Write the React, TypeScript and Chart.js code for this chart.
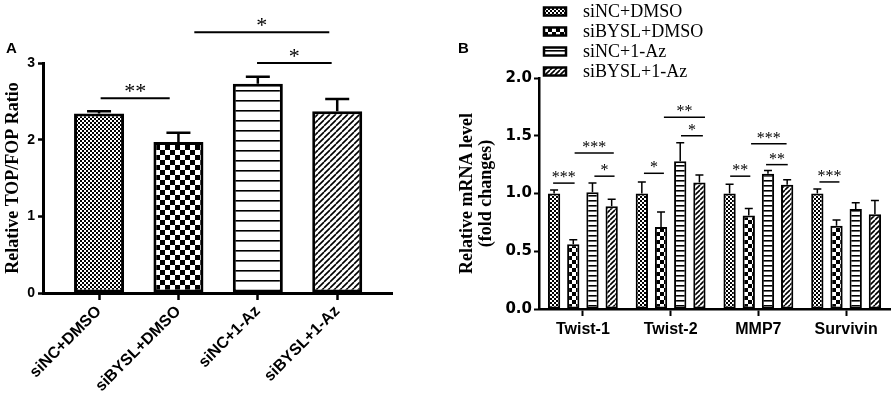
import React, { useEffect, useRef } from 'react';
import { Chart, registerables } from 'chart.js';

Chart.register(...registerables);

// ---------- Panel A data ----------
const groupsA = ['siNC+DMSO', 'siBYSL+DMSO', 'siNC+1-Az', 'siBYSL+1-Az'];
const positionsA = [0, 1, 2, 3];
const valuesA = [2.34, 1.97, 2.73, 2.37];
const errorsA = [0.03, 0.12, 0.09, 0.16];
const yTicksA = [0, 1, 2, 3];
const yTitleA = 'Relative TOP/FOP Ratio';
// [from x, to x, y, label]
const sigA: [number, number, number, string][] = [
  [0.02, 0.89, 2.54, '**'],
  [1.2, 2.9, 3.4, '*'],
  [1.99, 2.93, 3.0, '*'],
];

// ---------- Panel B data ----------
const genesB = ['Twist-1', 'Twist-2', 'MMP7', 'Survivin'];
const seriesNamesB = ['siNC+DMSO', 'siBYSL+DMSO', 'siNC+1-Az', 'siBYSL+1-Az'];
const siNCDMSO = [1.0, 1.0, 1.0, 1.0];
const siNCDMSOErr = [0.03, 0.1, 0.08, 0.04];
const siBYSLDMSO = [0.56, 0.71, 0.81, 0.72];
const siBYSLDMSOErr = [0.04, 0.13, 0.06, 0.05];
const siNCAz = [1.01, 1.28, 1.17, 0.865];
const siNCAzErr = [0.08, 0.16, 0.03, 0.055];
const siBYSLAz = [0.89, 1.095, 1.075, 0.82];
const siBYSLAzErr = [0.06, 0.065, 0.045, 0.12];
const yTicksB = [0, 0.5, 1, 1.5, 2];
const yTitleB = ['Relative mRNA level', '(fold changes)'];
// [category, from bar, to bar, y, label]
const sigB: [number, number, number, number, string][] = [
  [0, -0.05, 1.07, 1.09, '***'],
  [0, 2.1, 3.15, 1.15, '*'],
  [0, 1.07, 3.11, 1.35, '***'],
  [1, 0.11, 1.15, 1.175, '*'],
  [1, 1.15, 3.29, 1.66, '**'],
  [1, 2.04, 3.18, 1.5, '*'],
  [2, 0.03, 1.08, 1.15, '**'],
  [2, 1.12, 2.97, 1.43, '***'],
  [2, 1.9, 3.03, 1.25, '**'],
  [3, 0.11, 1.15, 1.1, '***'],
];

const SANS = '"Liberation Sans", Arial, sans-serif';
const SERIF = '"Liberation Serif", "Times New Roman", serif';

function makePattern(kind: string, s: number): CanvasPattern | string {
  const c = document.createElement('canvas');
  const ctx = c.getContext('2d');
  if (!ctx) return '#888';
  if (kind === 'checker') {
    c.width = 2 * s;
    c.height = 2 * s;
    ctx.fillStyle = '#fff';
    ctx.fillRect(0, 0, 2 * s, 2 * s);
    ctx.fillStyle = '#000';
    ctx.fillRect(0, 0, s, s);
    ctx.fillRect(s, s, s, s);
  } else if (kind === 'hlines') {
    c.width = 4;
    c.height = s;
    ctx.fillStyle = '#fff';
    ctx.fillRect(0, 0, 4, s);
    ctx.fillStyle = '#000';
    ctx.fillRect(0, 0, 4, 1.6);
  } else if (kind === 'diag') {
    c.width = s;
    c.height = s;
    ctx.fillStyle = '#fff';
    ctx.fillRect(0, 0, s, s);
    ctx.strokeStyle = '#000';
    ctx.lineWidth = 1.6;
    ctx.beginPath();
    for (const k of [-s, 0, s]) {
      ctx.moveTo(k, s);
      ctx.lineTo(k + s, 0);
    }
    ctx.stroke();
  }
  return ctx.createPattern(c, 'repeat') as CanvasPattern;
}

function errorBars(errors: number[][], capHalf: number, lw: number) {
  return {
    id: 'errorBars',
    afterDatasetsDraw(chart: any) {
      const ctx = chart.ctx;
      const y = chart.scales.y;
      chart.data.datasets.forEach((ds: any, di: number) => {
        const meta = chart.getDatasetMeta(di);
        meta.data.forEach((bar: any, i: number) => {
          const raw = ds.data[i];
          const val = typeof raw === 'number' ? raw : raw.y;
          const base = y.getPixelForValue(val);
          const top = y.getPixelForValue(val + errors[di][i]);
          ctx.save();
          ctx.strokeStyle = '#000';
          ctx.lineWidth = lw;
          ctx.beginPath();
          ctx.moveTo(bar.x, base);
          ctx.lineTo(bar.x, top);
          ctx.moveTo(bar.x - capHalf, top);
          ctx.lineTo(bar.x + capHalf, top);
          ctx.stroke();
          ctx.restore();
        });
      });
    },
  };
}

function drawSig(ctx: CanvasRenderingContext2D, x1: number, x2: number, py: number, label: string, lw: number, fontSize: number, gap: number) {
  ctx.save();
  ctx.strokeStyle = '#000';
  ctx.lineWidth = lw;
  ctx.beginPath();
  ctx.moveTo(x1, py);
  ctx.lineTo(x2, py);
  ctx.stroke();
  ctx.fillStyle = '#000';
  ctx.font = `${fontSize}px ${SERIF}`;
  ctx.textAlign = 'center';
  ctx.textBaseline = 'alphabetic';
  ctx.fillText(label, (x1 + x2) / 2, py - gap);
  ctx.restore();
}

export default function App() {
  const refA = useRef<HTMLCanvasElement>(null);
  const refB = useRef<HTMLCanvasElement>(null);

  useEffect(() => {
    if (!refA.current || !refB.current) return;

    const patA = [makePattern('checker', 2), makePattern('checker', 5), makePattern('hlines', 10), makePattern('diag', 6)];
    const patB = [makePattern('checker', 2), makePattern('checker', 4), makePattern('hlines', 5), makePattern('diag', 5)];

    const chartA = new Chart(refA.current, {
      type: 'bar',
      data: {
        datasets: [
          {
            label: 'TOP/FOP',
            data: positionsA.map((p, i) => ({ x: p, y: valuesA[i] })),
            backgroundColor: patA as any,
            borderColor: '#000',
            borderWidth: 3,
            borderSkipped: false,
            categoryPercentage: 1,
            barPercentage: 0.63,
          },
        ],
      },
      options: {
        responsive: false,
        animation: false,
        devicePixelRatio: 1,
        layout: { padding: { left: 0, top: 63, right: 48, bottom: 0 } },
        plugins: { legend: { display: false }, tooltip: { enabled: false } },
        scales: {
          x: {
            type: 'linear',
            min: -0.706,
            max: 3.69,
            offset: false,
            afterBuildTicks: (s: any) => {
              s.ticks = positionsA.map((v) => ({ value: v }));
            },
            afterFit: (s: any) => {
              s.height = 112;
            },
            grid: { display: true, drawOnChartArea: false, drawTicks: true, tickLength: 7, tickWidth: 2.5, tickColor: '#000', offset: false },
            border: { display: true, color: '#000', width: 3 },
            ticks: {
              autoSkip: false,
              minRotation: 45,
              maxRotation: 45,
              padding: 2,
              color: '#000',
              font: { family: SANS, size: 16, weight: 'bold' },
              callback: (v: any) => groupsA[v as number] ?? '',
            },
          },
          y: {
            min: 0,
            max: 3,
            afterBuildTicks: (s: any) => {
              s.ticks = yTicksA.map((v) => ({ value: v }));
            },
            afterFit: (s: any) => {
              s.width = 43;
            },
            grid: { display: true, drawOnChartArea: false, drawTicks: true, tickLength: 5, tickWidth: 2.5, tickColor: '#000' },
            border: { display: true, color: '#000', width: 3 },
            ticks: { padding: 3, color: '#000', font: { family: SANS, size: 14, weight: 'bold' }, callback: (v: any) => String(v) },
            title: { display: true, text: yTitleA, color: '#000', font: { family: SERIF, size: 18, weight: 'bold' }, padding: { top: 3, bottom: 0 } },
          },
        },
      } as any,
      plugins: [
        errorBars([errorsA], 12, 2.5),
        {
          id: 'sigA',
          afterDraw(chart: any) {
            const ctx = chart.ctx;
            const x = chart.scales.x;
            const y = chart.scales.y;
            sigA.forEach(([a, b, v, label]) => {
              drawSig(ctx, x.getPixelForValue(a), x.getPixelForValue(b), y.getPixelForValue(v), label, 2, 22, 0);
            });
            ctx.save();
            ctx.fillStyle = '#000';
            ctx.font = `bold 15px ${SANS}`;
            ctx.textAlign = 'left';
            ctx.textBaseline = 'alphabetic';
            ctx.fillText('A', 6, 53);
            ctx.restore();
          },
        },
      ],
    });

    const valsB = [siNCDMSO, siBYSLDMSO, siNCAz, siBYSLAz];
    const errsB = [siNCDMSOErr, siBYSLDMSOErr, siNCAzErr, siBYSLAzErr];

    const chartB = new Chart(refB.current, {
      type: 'bar',
      data: {
        labels: genesB,
        datasets: seriesNamesB.map((name, i) => ({
          label: name,
          data: valsB[i],
          backgroundColor: patB[i] as any,
          borderColor: '#000',
          borderWidth: 2,
          borderSkipped: false,
          categoryPercentage: 0.875,
          barPercentage: 0.64,
        })),
      },
      options: {
        responsive: false,
        animation: false,
        devicePixelRatio: 1,
        layout: { padding: { left: 0, top: 78, right: 3, bottom: 0 } },
        plugins: { legend: { display: false }, tooltip: { enabled: false } },
        scales: {
          x: {
            offset: true,
            afterFit: (s: any) => {
              s.height = 96;
            },
            grid: { display: true, drawOnChartArea: false, drawTicks: true, tickLength: 7, tickWidth: 2, tickColor: '#000', offset: false },
            border: { display: true, color: '#000', width: 2.5 },
            ticks: { autoSkip: false, maxRotation: 0, minRotation: 0, padding: 4, color: '#000', font: { family: SANS, size: 16, weight: 'bold' } },
          },
          y: {
            min: 0,
            max: 2,
            afterBuildTicks: (s: any) => {
              s.ticks = yTicksB.map((v) => ({ value: v }));
            },
            afterFit: (s: any) => {
              s.width = 99;
            },
            grid: { display: true, drawOnChartArea: false, drawTicks: true, tickLength: 5, tickWidth: 2, tickColor: '#000' },
            border: { display: true, color: '#000', width: 2.5 },
            ticks: { padding: 2, color: '#000', font: { family: '"DejaVu Sans", sans-serif', size: 15, weight: 'bold' }, callback: (v: any) => Number(v).toFixed(1) },
            title: { display: true, text: yTitleB, color: '#000', font: { family: SERIF, size: 18, weight: 'bold', lineHeight: 1.1 }, padding: { top: 17, bottom: 0 } },
          },
        },
      } as any,
      plugins: [
        errorBars(errsB, 4, 1.5),
        {
          id: 'sigB',
          afterDraw(chart: any) {
            const ctx = chart.ctx;
            const y = chart.scales.y;
            const m0 = chart.getDatasetMeta(0);
            const m1 = chart.getDatasetMeta(1);
            sigB.forEach(([c, b0, b1, v, label]) => {
              const x0 = m0.data[c].x;
              const step = m1.data[c].x - x0;
              drawSig(ctx, x0 + b0 * step, x0 + b1 * step, y.getPixelForValue(v), label, 1.5, 16, 1);
            });
            // legend
            ctx.save();
            chart.data.datasets.forEach((ds: any, i: number) => {
              const cy = 11.5 + i * 20;
              ctx.fillStyle = ds.backgroundColor;
              ctx.fillRect(104, cy - 4, 22, 8);
              ctx.strokeStyle = '#000';
              ctx.lineWidth = 2.5;
              ctx.strokeRect(104, cy - 4, 22, 8);
              ctx.fillStyle = '#000';
              ctx.font = `18px ${SERIF}`;
              ctx.textAlign = 'left';
              ctx.textBaseline = 'middle';
              ctx.fillText(ds.label, 143, cy + 1);
            });
            ctx.font = `bold 15px ${SANS}`;
            ctx.textBaseline = 'alphabetic';
            ctx.fillText('B', 18, 53);
            ctx.restore();
          },
        },
      ],
    });

    return () => {
      chartA.destroy();
      chartB.destroy();
    };
  }, []);

  return (
    <div style={{ position: 'fixed', left: 0, top: 0, width: 893, height: 405, background: '#fff', overflow: 'hidden' }}>
      <canvas ref={refA} width={440} height={405} style={{ position: 'absolute', left: 0, top: 0, width: 440, height: 405 }} />
      <canvas ref={refB} width={453} height={405} style={{ position: 'absolute', left: 440, top: 0, width: 453, height: 405 }} />
    </div>
  );
}
